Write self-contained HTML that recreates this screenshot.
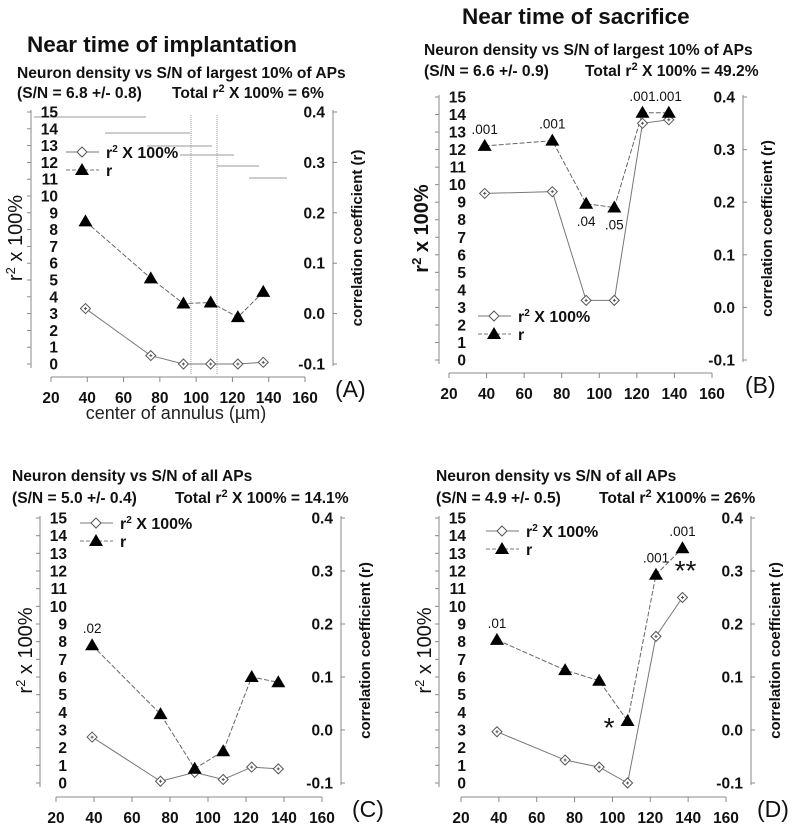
<!DOCTYPE html>
<html><head><meta charset="utf-8">
<style>
html,body{margin:0;padding:0;background:#fff;}
svg{display:block;font-family:"Liberation Sans",Arial,sans-serif;}
.t{font-weight:bold;fill:#111;}
</style></head>
<body>
<svg id="fig" width="792" height="828" viewBox="0 0 792 828" xmlns="http://www.w3.org/2000/svg">
<text x="27" y="52" class="t" font-size="22.5">Near time of implantation</text>
<text x="462" y="24" class="t" font-size="22.5">Near time of sacrifice</text>
<text x="17" y="78" class="t" font-size="15.6">Neuron density vs S/N of largest 10% of APs</text>
<text x="17" y="98" class="t" font-size="15.6">(S/N = 6.8 +/- 0.8)<tspan x="172">Total r</tspan><tspan dy="-6" font-size="11">2</tspan><tspan dy="6"> X 100% = 6%</tspan></text>
<text x="424" y="55" class="t" font-size="15.6">Neuron density vs S/N of largest 10% of APs</text>
<text x="424" y="76" class="t" font-size="15.6">(S/N = 6.6 +/- 0.9)<tspan x="585">Total r</tspan><tspan dy="-6" font-size="11">2</tspan><tspan dy="6"> X 100% = 49.2%</tspan></text>
<text x="12" y="481" class="t" font-size="15.6">Neuron density vs S/N of all APs</text>
<text x="12" y="503" class="t" font-size="15.6">(S/N = 5.0 +/- 0.4)<tspan x="175">Total r</tspan><tspan dy="-6" font-size="11">2</tspan><tspan dy="6"> X 100% = 14.1%</tspan></text>
<text x="436" y="481" class="t" font-size="15.6">Neuron density vs S/N of all APs</text>
<text x="436" y="503" class="t" font-size="15.6">(S/N = 4.9 +/- 0.5)<tspan x="599">Total r</tspan><tspan dy="-6" font-size="11">2</tspan><tspan dy="6"> X100% = 26%</tspan></text>
<text x="176" y="419" font-size="18" text-anchor="middle" fill="#222">center of annulus (µm)</text>
<g id="artifacts" stroke="#999" stroke-width="1">
<line x1="34" y1="117" x2="146" y2="117"/><line x1="105" y1="133" x2="190" y2="133"/>
<line x1="147" y1="146" x2="212" y2="146"/><line x1="180" y1="155" x2="234" y2="155"/>
<line x1="217" y1="166" x2="259" y2="166"/><line x1="249" y1="178" x2="287" y2="178"/>
<line x1="191" y1="115" x2="191" y2="375" stroke-dasharray="1,1"/><line x1="217" y1="115" x2="217" y2="375" stroke-dasharray="1,1"/>
</g>
</svg>
<script>
const xCats = [39, 75, 93, 108, 123, 137];
const xTicks = [20, 40, 60, 80, 100, 120, 140, 160];
const leftTicks = [0,1,2,3,4,5,6,7,8,9,10,11,12,13,14,15];
const rightTicks = ["-0.1","0.0","0.1","0.2","0.3","0.4"];
const r2A = [3.3, 0.5, 0, 0, 0, 0.1];
const rA = [0.183, 0.07, 0.02, 0.022, -0.007, 0.043];
const r2B = [9.5, 9.6, 3.4, 3.4, 13.5, 13.7];
const rB = [0.307, 0.317, 0.197, 0.19, 0.37, 0.37];
const pB = [".001", ".001", ".04", ".05", ".001", ".001"];
const r2C = [2.6, 0.1, 0.6, 0.2, 0.9, 0.8];
const rC = [0.16, 0.03, -0.073, -0.04, 0.1, 0.09];
const pC = [".02", "", "", "", "", ""];
const r2D = [2.9, 1.3, 0.9, 0, 8.3, 10.5];
const rD = [0.17, 0.113, 0.093, 0.017, 0.293, 0.343];
const pD = [".01", "", "", "", ".001", ".001"];

const NS = "http://www.w3.org/2000/svg";
const svg = document.getElementById("fig");
function mk(tag, attrs, parent, txt){
  const e = document.createElementNS(NS, tag);
  for (const k in attrs) e.setAttribute(k, attrs[k]);
  if (txt !== undefined) e.textContent = txt;
  (parent||svg).appendChild(e);
  return e;
}
function panel(cfg){
  const g = mk("g", {});
  
  
  const xs = v => cfg.x20 + (v-20)*(cfg.x160-cfg.x20)/140;
  const ys = v => cfg.y0 - v*(cfg.y0-cfg.y15)/15;
  const yr = v => ys((v+0.1)*30);
  mk("line",{x1:cfg.ax,y1:cfg.y15-2,x2:cfg.ax,y2:cfg.y0+4,stroke:"#888"},g);
  leftTicks.forEach(t=>{
    mk("line",{x1:cfg.ax-4,y1:ys(t),x2:cfg.ax,y2:ys(t),stroke:"#888"},g);
    const tl = mk("text",{x:cfg.ax+27,y:ys(t)+5.5,"font-size":15.5,"font-weight":"bold","text-anchor":"end",fill:"#111"},g,String(t));
    
    
  });
  mk("line",{x1:cfg.rx,y1:cfg.y15-2,x2:cfg.rx,y2:cfg.y0+2,stroke:"#888"},g);
  rightTicks.forEach(t=>{
    const y = yr(parseFloat(t));
    mk("line",{x1:cfg.rx,y1:y,x2:cfg.rx+4,y2:y,stroke:"#888"},g);
    const tl = mk("text",{x:cfg.rx-8,y:y+5.5,"font-size":15.5,"font-weight":"bold","text-anchor":"end",fill:"#111"},g,t);
    
    
  });
  mk("line",{x1:xs(20),y1:cfg.xy,x2:xs(160),y2:cfg.xy,stroke:"#888"},g);
  xTicks.forEach(t=>{
    mk("line",{x1:xs(t),y1:cfg.xy,x2:xs(t),y2:cfg.xy+5,stroke:"#888"},g);
    const tl = mk("text",{x:xs(t),y:cfg.xy+26,"font-size":15.5,"font-weight":"bold","text-anchor":"middle",fill:"#111"},g,String(t));
    
    
  });
  const yl = mk("text",{transform:`translate(${cfg.ylx},${(cfg.y15+cfg.y0)/2}) rotate(-90)`,"font-size":20,"text-anchor":"middle",fill:"#111","font-weight":cfg.id==="b"?"bold":"normal"},g);
  yl.innerHTML = 'r<tspan dy="-7" font-size="13">2</tspan><tspan dy="7"> x 100%</tspan>';
  
  
  const rl = mk("text",{transform:`translate(${cfg.rlx},${(cfg.y15+cfg.y0)/2}) rotate(-90)`,"font-size":15,"font-weight":"bold","text-anchor":"middle",fill:"#111"},g,"correlation coefficient (r)");
  
  
  const pl = mk("text",{x:cfg.plx,y:cfg.xy+20,"font-size":23,fill:"#111"},g,"("+cfg.id.toUpperCase()+")");
  
  
  const rpts = xCats.map((x,i)=>[xs(x),yr(cfg.r[i])]);
  const rl2 = mk("polyline",{points:rpts.map(p=>p.join(",")).join(" "),fill:"none",stroke:"#666","stroke-dasharray":"5,2"},g);
  
  
  const dpts = xCats.map((x,i)=>[xs(x),ys(cfg.r2[i])]);
  const dl = mk("polyline",{points:dpts.map(p=>p.join(",")).join(" "),fill:"none",stroke:"#777"},g);
  
  
  dpts.forEach(p=>{
    const d = mk("path",{d:`M${p[0]},${p[1]-5} L${p[0]+5},${p[1]} L${p[0]},${p[1]+5} L${p[0]-5},${p[1]} Z M${p[0]-1.5},${p[1]} h3 M${p[0]},${p[1]-1.5} v3`,fill:"#fff",stroke:"#555"},g);
    
    
  });
  rpts.forEach((p,i)=>{
    const t = mk("path",{d:`M${p[0]},${p[1]-7} L${p[0]+7},${p[1]+5} L${p[0]-7},${p[1]+5} Z`,fill:"#000"},g);
    
    
    if (cfg.p && cfg.p[i]) {
      const below = cfg.below && cfg.below[i];
      const pl2 = mk("text",{x:p[0],y:below?p[1]+22:p[1]-12,"font-size":13.5,"text-anchor":"middle",fill:"#111"},g,cfg.p[i]);
      
      
    }
  });
  const L = cfg.leg;
  mk("line",{x1:L[0],y1:L[1],x2:L[0]+33,y2:L[1],stroke:"#777"},g);
  const m = L[0]+16;
  mk("path",{d:`M${m},${L[1]-5} L${m+5},${L[1]} L${m},${L[1]+5} L${m-5},${L[1]} Z`,fill:"#fff",stroke:"#555"},g);
  const lt1 = mk("text",{x:L[0]+40,y:L[1]+6,"font-size":16,"font-weight":"bold",fill:"#111"},g);
  lt1.innerHTML = 'r<tspan dy="-6" font-size="10">2</tspan><tspan dy="6"> X 100%</tspan>';
  
  
  const y2 = L[1]+18;
  mk("line",{x1:L[0],y1:y2,x2:L[0]+33,y2:y2,stroke:"#777","stroke-dasharray":"4,2"},g);
  mk("path",{d:`M${m},${y2-7} L${m+7},${y2+5} L${m-7},${y2+5} Z`,fill:"#000"},g);
  const lt2 = mk("text",{x:L[0]+40,y:y2+6,"font-size":16,"font-weight":"bold",fill:"#111"},g,"r");
  
  
  return {xs, ys, yr, g};
}
panel({id:"a",ax:31,rx:333,x20:51,x160:305,y15:112,y0:364,xy:377,ylx:22,rlx:362,plx:335,r:rA,r2:r2A,leg:[66,152]});
panel({id:"b",ax:439,rx:743,x20:449,x160:712,y15:97,y0:360,xy:373,ylx:428,rlx:772,plx:745,r:rB,r2:r2B,p:pB,below:[0,0,1,1,0,0],leg:[478,316]});
panel({id:"c",ax:40,rx:341,x20:56,x160:322,y15:518,y0:783,xy:797,ylx:32,rlx:370,plx:352,r:rC,r2:r2C,p:pC,leg:[80,523]});
const D = panel({id:"d",ax:439,rx:751,x20:461,x160:726,y15:518,y0:783,xy:797,ylx:431,rlx:780,plx:757,r:rD,r2:r2D,p:pD,leg:[486,531]});
const s1 = mk("text",{x:D.xs(xCats[3])-24,y:D.yr(rD[3])+16,"font-size":28,fill:"#111"},D.g,"*");


const s2 = mk("text",{x:D.xs(xCats[5])+3,y:D.yr(rD[5])+32,"font-size":28,"text-anchor":"middle",fill:"#111"},D.g,"**");


</script>
</body></html>
